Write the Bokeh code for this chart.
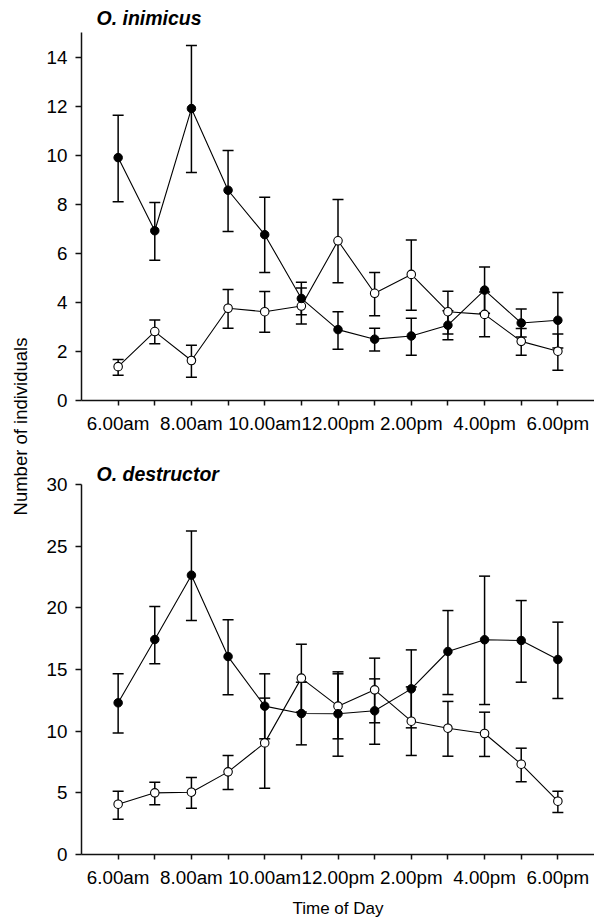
from bokeh.plotting import figure
from bokeh.models import ColumnDataSource, Whisker, TeeHead, FixedTicker, Label, Range1d
from bokeh.layouts import row, column
from bokeh.embed import file_html
from bokeh.resources import INLINE

# ---- data ----
hours = ["6.00am", "7.00am", "8.00am", "9.00am", "10.00am", "11.00am", "12.00pm",
         "1.00pm", "2.00pm", "3.00pm", "4.00pm", "5.00pm", "6.00pm"]
shown_hours = ["6.00am", "8.00am", "10.00am", "12.00pm", "2.00pm", "4.00pm", "6.00pm"]

inim_filled_mean = [9.90, 6.92, 11.90, 8.57, 6.76, 4.16, 2.89, 2.50, 2.63, 3.07, 4.50, 3.16, 3.27]
inim_filled_upper = [11.63, 8.07, 14.47, 10.19, 8.28, 4.82, 3.62, 2.94, 3.35, 3.66, 5.44, 3.73, 4.40]
inim_filled_lower = [8.10, 5.72, 9.29, 6.89, 5.22, 3.50, 2.09, 2.02, 1.84, 2.48, 3.56, 2.59, 2.14]

inim_open_mean = [1.38, 2.81, 1.63, 3.76, 3.62, 3.85, 6.51, 4.37, 5.14, 3.62, 3.51, 2.41, 2.01]
inim_open_upper = [1.67, 3.28, 2.25, 4.52, 4.44, 4.59, 8.19, 5.22, 6.54, 4.45, 4.42, 2.93, 2.71]
inim_open_lower = [1.03, 2.31, 0.95, 2.94, 2.78, 3.12, 4.80, 3.45, 3.68, 2.71, 2.60, 1.84, 1.23]

dest_filled_mean = [12.30, 17.43, 22.65, 16.05, 12.03, 11.43, 11.41, 11.65, 13.43, 16.46, 17.41, 17.35, 15.81]
dest_filled_upper = [14.65, 20.11, 26.22, 19.03, 14.65, 13.97, 14.81, 14.24, 16.59, 19.78, 22.57, 20.59, 18.84]
dest_filled_lower = [9.86, 15.46, 18.97, 12.95, 9.38, 8.89, 7.97, 8.94, 10.27, 12.97, 12.16, 13.97, 12.65]

dest_open_mean = [4.08, 5.00, 5.05, 6.70, 9.05, 14.30, 12.03, 13.35, 10.81, 10.24, 9.81, 7.32, 4.32]
dest_open_upper = [5.13, 5.86, 6.24, 8.03, 12.68, 17.05, 14.65, 15.92, 13.59, 12.41, 11.54, 8.62, 5.13]
dest_open_lower = [2.86, 4.03, 3.76, 5.27, 5.38, 11.55, 9.38, 10.68, 8.03, 7.97, 7.95, 5.89, 3.41]

inim_yticks = [0, 2, 4, 6, 8, 10, 12, 14]
dest_yticks = [0, 5, 10, 15, 20, 25, 30]

FONT = "Liberation Sans"
xpos = list(range(len(hours)))
tick_overrides = {i: (h if h in shown_hours else "") for i, h in enumerate(hours)}


def panel(title, height, btop, bbottom, ymax, yticks, filled, opened, title_standoff, xlabel=None):
    p = figure(width=562, height=height, x_range=Range1d(-1, 13.0), y_range=Range1d(0, ymax),
               output_backend="svg", toolbar_location=None,
               min_border_left=49, min_border_right=0, min_border_top=btop,
               min_border_bottom=bbottom, title=title)
    p.outline_line_color = None
    p.grid.visible = False
    p.background_fill_color = "white"
    p.border_fill_color = "white"

    p.title.text_font = FONT
    p.title.text_font_style = "bold italic"
    p.title.text_font_size = "19.5px"
    p.title.text_color = "black"
    p.title.align = "left"
    p.title.offset = 15
    p.title.standoff = title_standoff

    for ax in (p.xaxis[0], p.yaxis[0]):
        ax.axis_line_color = "#111111"
        ax.axis_line_width = 1.5
        ax.major_tick_line_color = "#111111"
        ax.major_tick_line_width = 1.5
        ax.major_tick_in = 0
        ax.minor_tick_line_color = None
        ax.major_label_text_font = FONT
        ax.major_label_text_font_size = "18.8px"
        ax.major_label_text_color = "black"
        ax.major_label_standoff = 8

    p.xaxis.ticker = FixedTicker(ticks=xpos)
    p.xaxis.major_label_overrides = tick_overrides
    p.xaxis.major_tick_out = 5
    p.xaxis.major_label_standoff = 7
    p.yaxis.ticker = FixedTicker(ticks=yticks)
    p.yaxis.major_tick_out = 6

    if xlabel:
        p.xaxis.axis_label = xlabel
        p.xaxis.axis_label_text_font = FONT
        p.xaxis.axis_label_text_font_style = "normal"
        p.xaxis.axis_label_text_font_size = "17px"
        p.xaxis.axis_label_text_color = "black"
        p.xaxis.axis_label_standoff = 8

    srcs = []
    for mean, up, lo in (filled, opened):
        s = ColumnDataSource(dict(x=xpos, y=mean, upper=up, lower=lo))
        srcs.append(s)
        w = Whisker(source=s, base="x", upper="upper", lower="lower",
                    line_color="black", line_width=1.5, level="underlay",
                    upper_head=TeeHead(size=11, line_width=1.5, line_color="black"),
                    lower_head=TeeHead(size=11, line_width=1.5, line_color="black"))
        p.add_layout(w)
    for s in srcs:
        p.line("x", "y", source=s, line_color="black", line_width=1.1)
    p.scatter("x", "y", source=srcs[1], size=8.5, fill_color="white",
              line_color="black", line_width=1.1)
    p.scatter("x", "y", source=srcs[0], size=8.5, fill_color="black",
              line_color="black", line_width=1)
    return p


top = panel("O. inimicus", 446, 32, 46, 15, inim_yticks,
            (inim_filled_mean, inim_filled_upper, inim_filled_lower),
            (inim_open_mean, inim_open_upper, inim_open_lower), 8)
bottom = panel("O. destructor", 474, 38, 66, 30, dest_yticks,
               (dest_filled_mean, dest_filled_upper, dest_filled_lower),
               (dest_open_mean, dest_open_upper, dest_open_lower), 0,
               xlabel="Time of Day")

lab = figure(width=32, height=920, x_range=Range1d(0, 1), y_range=Range1d(0, 1),
             x_axis_type=None, y_axis_type=None, toolbar_location=None,
             output_backend="svg", min_border=0)
lab.outline_line_color = None
lab.grid.visible = False
lab.add_layout(Label(x=19.5, y=494, x_units="screen", y_units="screen",
                     text="Number of individuals", angle=90, angle_units="deg",
                     text_align="center", text_baseline="middle",
                     text_font=FONT, text_font_size="18.5px", text_color="black"))

layout = row(lab, column(top, bottom, spacing=0), spacing=0)
open("out.html", "w").write(file_html(layout, INLINE))
